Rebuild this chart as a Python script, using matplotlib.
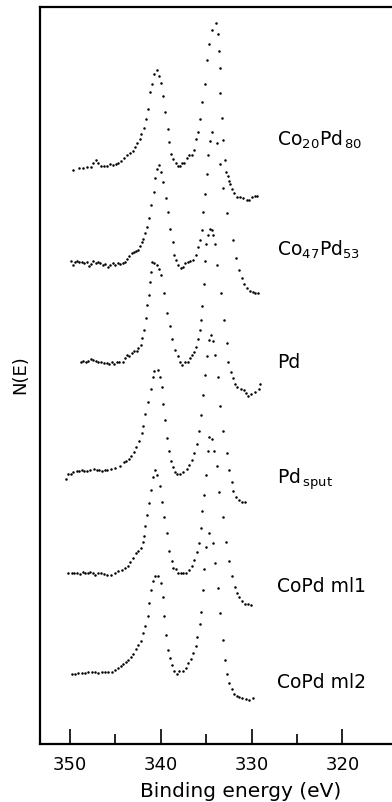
import matplotlib
matplotlib.use("Agg")
import matplotlib.pyplot as plt

# XPS Pd 3d spectra, binding energy (eV) and N(E) (arb. units, above each spectrum's own baseline)
e_co20 = [349.64, 349.0, 348.54, 348.1, 347.65, 347.43, 347.17, 346.88, 346.59, 346.26, 345.89, 345.6, 345.23, 344.94,
          344.68, 344.38, 344.02, 343.69, 343.39, 343.1, 342.81, 342.59, 342.29, 342.18, 341.9, 341.67, 341.41, 341.19,
          341.0, 340.72, 340.42, 340.17, 339.98, 339.79, 339.54, 339.24, 339.07, 338.88, 338.63, 338.36, 338.14, 337.89,
          337.63, 337.41, 337.15, 336.86, 336.6, 336.31, 336.13, 335.87, 335.69, 335.43, 335.17, 334.88, 334.73, 334.4,
          333.96, 333.67, 333.56, 333.51, 333.45, 333.27, 333.12, 332.9, 332.77, 332.6, 332.51, 332.38, 332.16, 331.94,
          331.64, 331.28, 330.91, 330.54, 330.26, 329.93, 329.63, 329.38]
n_co20 = [-1, 1, 1, 2, 2, 6, 9, 6, 3, 3, 3, 5, 4, 5, 6, 8, 11, 14, 16, 18, 22, 26, 30, 35, 41, 50, 60, 77, 85, 95, 99,
          93, 86, 73, 57, 40, 27, 15, 10, 6, 3, 3, 6, 6, 11, 14, 14, 19, 30, 37, 50, 67, 85, 109, 125, 139, 146, 135,
          118, 101, 76, 51, 29, 9, -3, -7, -12, -15, -20, -24, -28, -28, -29, -31, -31, -28, -27, -27]

e_co47 = [349.92, 349.7, 349.45, 349.2, 348.98, 348.71, 348.43, 348.16, 347.91, 347.69, 347.43, 347.17, 346.95, 346.7,
          346.4, 346.15, 345.85, 345.6, 345.3, 345.05, 344.75, 344.5, 344.2, 343.95, 343.69, 343.47, 343.21, 342.95,
          342.73, 342.48, 342.29, 342.1, 341.93, 341.74, 341.55, 341.3, 341.08, 340.78, 340.6, 340.38, 340.16, 339.94,
          339.72, 339.43, 339.17, 338.95, 338.69, 338.51, 338.32, 338.07, 337.81, 337.52, 337.3, 337.03, 336.78, 336.42,
          336.12, 335.87, 335.69, 335.43, 335.32, 335.14, 334.92, 334.77, 334.59, 334.33, 333.85, 333.49, 333.12, 332.68,
          332.09, 331.72, 331.36, 331.06, 330.81, 330.48, 330.18, 329.88, 329.6, 329.3]
n_co47 = [1, -3, 0, 1, 0, 0, -1, 0, -4, -2, 1, -1, 0, -1, -3, -2, -5, -3, -1, -3, -1, -2, -1, 0, 3, 6, 9, 10, 11, 12,
          16, 20, 23, 29, 35, 44, 57, 70, 84, 93, 97, 90, 80, 64, 50, 33, 20, 7, 2, -3, -6, -5, -1, 0, 1, 2, 7, 15, 22,
          32, 50, 68, 88, 107, 121, 130, 119, 98, 74, 49, 22, 4, -8, -16, -22, -26, -29, -30, -31, -31]

e_pd = [348.82, 348.54, 348.27, 347.99, 347.72, 347.43, 347.14, 346.88, 346.59, 346.26, 345.96, 345.71, 345.41, 345.16,
        344.86, 344.57, 344.2, 343.95, 343.76, 343.5, 343.21, 342.95, 342.66, 342.48, 342.22, 342.04, 341.85, 341.67,
        341.49, 341.3, 341.16, 341.03, 340.94, 340.78, 340.45, 340.17, 339.94, 339.61, 339.28, 338.95, 338.73, 338.47,
        338.14, 337.89, 337.67, 337.37, 337.04, 336.78, 336.53, 336.31, 336.12, 335.94, 335.69, 335.58, 335.43, 335.25,
        335.1, 334.99, 334.77, 334.59, 334.4, 334.29, 334.0, 333.78, 333.38, 333.01, 332.75, 332.57, 332.31, 332.02,
        331.83, 331.58, 331.2, 330.87, 330.62, 330.4, 330.02, 329.63, 329.22, 329.13]
n_pd = [0, 1, 0, 1, 3, 2, 1, 0, 0, -1, -1, -2, 0, -2, 0, 0, 0, 4, 7, 6, 9, 11, 11, 14, 17, 24, 32, 44, 57, 67, 80, 90,
        100, 99, 97, 93, 87, 69, 49, 36, 23, 12, 6, 0, -3, 0, 0, 4, 7, 10, 15, 23, 32, 42, 56, 78, 101, 118, 127, 133,
        132, 127, 118, 97, 69, 42, 19, 0, -10, -16, -22, -25, -27, -28, -31, -34, -32, -30, -27, -22]

e_sput = [350.44, 350.25, 349.92, 349.64, 349.26, 348.98, 348.71, 348.43, 348.16, 347.8, 347.36, 347.06, 346.81, 346.51,
          346.15, 345.89, 345.52, 345.05, 344.46, 344.09, 343.8, 343.54, 343.25, 342.99, 342.73, 342.44, 342.1, 341.93,
          341.71, 341.41, 341.08, 340.83, 340.72, 340.35, 340.09, 339.87, 339.73, 339.51, 339.29, 339.07, 338.88, 338.63,
          338.44, 338.19, 337.89, 337.53, 337.15, 336.87, 336.57, 336.32, 336.05, 335.8, 335.58, 335.32, 335.1, 334.88,
          334.7, 334.48, 334.22, 334.0, 333.71, 333.45, 333.12, 332.75, 332.46, 332.2, 332.0, 331.72, 331.39, 331.1,
          330.73]
n_sput = [-9, -4, -4, -2, -1, -1, 0, -1, -1, 0, 1, 0, 0, -1, 0, 0, 1, 2, 4, 8, 9, 11, 14, 18, 23, 29, 37, 44, 56, 68,
          81, 93, 99, 100, 93, 83, 66, 50, 32, 19, 9, 3, -2, -4, -4, -2, 1, 5, 10, 17, 26, 39, 55, 75, 95, 114, 130, 135,
          129, 115, 93, 64, 39, 17, 0, -12, -21, -27, -30, -32, -32]

e_ml1 = [350.19, 349.81, 349.53, 349.2, 348.9, 348.6, 348.35, 348.05, 347.8, 347.5, 347.25, 346.88, 346.59, 346.26,
         345.89, 345.52, 345.05, 344.68, 344.31, 343.99, 343.66, 343.34, 343.03, 342.73, 342.46, 342.18, 341.99, 341.85,
         341.71, 341.49, 341.27, 341.08, 340.9, 340.64, 340.39, 340.09, 339.84, 339.65, 339.35, 339.07, 338.8, 338.69,
         338.33, 338.08, 337.78, 337.53, 337.26, 336.87, 336.54, 336.32, 336.05, 335.83, 335.61, 335.43, 335.21, 334.99,
         334.84, 334.66, 334.4, 334.15, 333.85, 333.6, 333.19, 332.86, 332.5, 332.2, 331.83, 331.61, 331.39, 331.1,
         330.73, 330.43, 330.07]
n_ml1 = [0, 0, 0, 0, -1, 1, 0, 0, 1, 0, -2, 0, 0, -1, -2, -2, 0, 2, 3, 5, 7, 11, 15, 20, 22, 25, 31, 37, 47, 58, 70, 83,
         96, 103, 98, 87, 71, 56, 40, 22, 12, 5, 4, 0, 0, 0, 0, 3, 7, 13, 21, 30, 45, 62, 78, 98, 122, 136, 134, 122,
         107, 81, 56, 31, 12, -3, -14, -20, -24, -28, -31, -31, -32]

e_ml2 = [349.81, 349.45, 349.09, 348.71, 348.35, 347.99, 347.61, 347.25, 346.88, 346.51, 346.15, 345.78, 345.41, 345.05,
         344.68, 344.42, 344.13, 343.87, 343.58, 343.32, 343.03, 342.73, 342.48, 342.18, 341.93, 341.71, 341.41, 341.27,
         341.08, 340.9, 340.64, 340.28, 340.01, 339.72, 339.61, 339.43, 339.24, 338.95, 338.73, 338.51, 338.25, 337.96,
         337.58, 337.26, 336.97, 336.67, 336.42, 336.15, 335.98, 335.69, 335.54, 335.39, 335.21, 335.06, 334.66, 334.22,
         334.0, 333.74, 333.45, 333.12, 332.9, 332.68, 332.46, 332.16, 331.91, 331.64, 331.36, 331.03, 330.62, 330.26,
         329.88]
n_ml2 = [-1, -1, 0, 0, 0, 1, 1, 1, 0, 1, 1, 1, 1, 3, 5, 7, 9, 11, 13, 16, 19, 24, 28, 32, 40, 47, 57, 70, 83, 92, 97,
         97, 90, 76, 57, 38, 23, 15, 8, 2, -1, 2, 2, 5, 10, 14, 20, 27, 36, 49, 61, 83, 104, 126, 140, 130, 110, 85, 60,
         33, 13, -1, -10, -16, -21, -23, -24, -25, -26, -27, -25]

labels = ["Co$_{20}$Pd$_{\\,80}$", "Co$_{47}$Pd$_{53}$", "Pd", "Pd$_{\\,\\mathrm{sput}}$", "CoPd ml1", "CoPd ml2"]
offsets = [575, 482, 382, 274, 171, 71]
label_y = [605, 495, 382, 266, 158, 63]
label_e = 327.2

xticks_major = [350, 340, 330, 320]
xticks_minor = [345, 335, 325]

spectra = [(e_co20, n_co20), (e_co47, n_co47), (e_pd, n_pd),
           (e_sput, n_sput), (e_ml1, n_ml1), (e_ml2, n_ml2)]

plt.rcParams['mathtext.default'] = 'regular'
fig = plt.figure(figsize=(3.92, 8.03), dpi=100)
ax = fig.add_axes([40 / 392, 1 - 745 / 803, 1 - 40 / 392, 737 / 803])

for (e, n), off, lab, ly in zip(spectra, offsets, labels, label_y):
    ax.plot(e, [v + off for v in n], ls='none', marker='o', ms=1.8, color='black', mew=0)
    ax.text(label_e, ly, lab, fontsize=13.5, ha='left', va='center')

ax.set_xlim(353.3, 314.55)
ax.set_ylim(0, 737)
ax.set_yticks([])
ax.set_xticks(xticks_major)
ax.set_xticks(xticks_minor, minor=True)
ax.tick_params(axis='x', which='major', direction='in', length=11, width=1.2, labelsize=13, pad=8)
ax.tick_params(axis='x', which='minor', direction='in', length=7, width=1.2)
for side in ['left', 'top', 'bottom']:
    ax.spines[side].set_linewidth(1.6)
ax.spines['right'].set_visible(False)

fig.text(241 / 392, 1 - 792 / 803, "Binding energy (eV)", fontsize=14.5, ha='center', va='center')
fig.text(20 / 392, 1 - 375 / 803, "N(E)", fontsize=13, rotation=90, ha='center', va='center')

fig.savefig("out.png", dpi=100)
